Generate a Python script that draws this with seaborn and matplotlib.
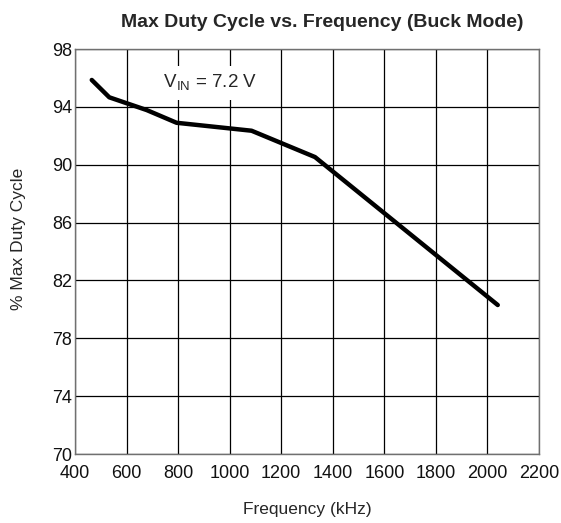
import matplotlib
matplotlib.use('Agg')
import matplotlib.pyplot as plt
import seaborn as sns
import pandas as pd

freq_khz = [465, 533, 678, 794, 1085, 1331, 2040]
max_duty = [95.86, 94.66, 93.78, 92.9, 92.35, 90.53, 80.3]
x_ticks = [400, 600, 800, 1000, 1200, 1400, 1600, 1800, 2000, 2200]
y_ticks = [70, 74, 78, 82, 86, 90, 94, 98]

sns.set_style('white')
plt.rcParams['font.family'] = ['Liberation Sans', 'DejaVu Sans']
plt.rcParams['mathtext.fontset'] = 'custom'
plt.rcParams['mathtext.rm'] = 'Liberation Sans'

df = pd.DataFrame({'Frequency': freq_khz, 'Duty': max_duty})

fig = plt.figure(figsize=(5.61, 5.23), dpi=100)
ax = fig.add_axes([0.1337, 0.1319, 0.8271, 0.7744])

sns.lineplot(data=df, x='Frequency', y='Duty', ax=ax, color='black', linewidth=3.2,
             solid_capstyle='round', solid_joinstyle='round', zorder=3)

ax.set_xlim(400, 2200)
ax.set_ylim(70, 98)
ax.set_xticks(x_ticks)
ax.set_yticks(y_ticks)
ax.grid(True, color='black', linewidth=0.9)
ax.tick_params(axis='both', labelsize=13, length=0, colors='#111111')
ax.tick_params(axis='x', pad=8)
ax.tick_params(axis='y', pad=2)
for s in ax.spines.values():
    s.set_color('#707070')
    s.set_linewidth(1.0)

ax.set_xlabel('Frequency (kHz)', fontsize=12.5, labelpad=14)
ax.set_ylabel('% Max Duty Cycle', fontsize=12.5)
ax.yaxis.set_label_coords(-0.105, 0.531)
ax.set_title('Max Duty Cycle vs. Frequency (Buck Mode)', fontsize=14, fontweight='bold',
             pad=16, x=0.532)

ax.text(916, 95.65, r'   V$_{\mathrm{IN}}$ = 7.2 V   ', fontsize=13.5, ha='center', va='center',
        bbox=dict(facecolor='white', edgecolor='none', pad=5), zorder=4)

fig.savefig('out.png', dpi=100)
